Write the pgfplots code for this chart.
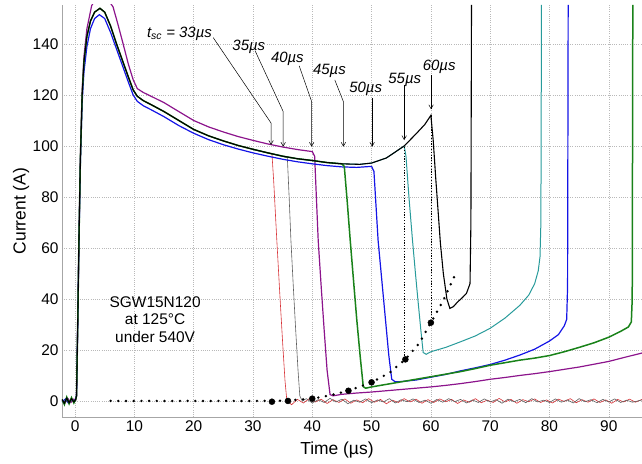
\documentclass[border=0pt]{standalone}
\usepackage{fontspec}
\setmainfont{Liberation Sans}
\usepackage{pgfplots}
\pgfplotsset{compat=1.18}
\usetikzlibrary{arrows.meta}
\definecolor{cRed}{RGB}{215,50,55}
\definecolor{cGray}{RGB}{95,95,95}
\definecolor{cPurple}{RGB}{140,20,140}
\definecolor{cGreen}{RGB}{25,130,25}
\definecolor{cBlue}{RGB}{20,20,230}
\definecolor{cTeal}{RGB}{40,155,155}
\begin{document}
\begin{tikzpicture}
\useasboundingbox (-62bp,-47bp) rectangle (580bp,417bp);
\begin{axis}[
  at={(0,0)}, anchor=south west,
  scale only axis, width=580bp, height=412bp,
  xmin=-2.2, xmax=95.6, ymin=-6.3, ymax=155.3,
  separate axis lines,
  axis x line*=bottom, axis y line*=left,
  x axis line style={-, draw=gray!70, line width=0.6bp},
  y axis line style={-, draw=gray!70, line width=0.6bp},
  xtick={0,10,...,90}, ytick={0,20,...,140},
  major tick length=0pt,
  grid=major,
  major grid style={draw=gray!55, line width=0.5bp, dash pattern=on 0.8bp off 1.4bp},
  tick label style={font=\fontsize{15.5}{18}\selectfont},
  /pgf/number format/assume math mode=true,
  label style={font=\fontsize{17.5}{20}\selectfont},
  xlabel={Time (µs)}, ylabel={Current (A)},
  xlabel style={at={(axis description cs:0.474,0)}, anchor=center, yshift=-33bp},
  ylabel style={at={(axis description cs:0,0.5)}, anchor=center, yshift=41bp},
  clip=true,
]
% red, t_sc = 33 us
\addplot[cRed, line width=0.6bp] coordinates {
(-2.2,0.6) (-1.8,-0.9) (-1.4,1.1) (-1.0,-0.7) (-0.6,0.9) (-0.2,-0.4) (0.1,0.5) (0.25,2) (0.45,30) (0.65,62) (0.9,95) (1.2,120) (1.5,133) (2,143) (2.6,149) (3.3,152.5) (4.2,154) (5,152.5) (6,147) (7,140) (8,133.5) (9,127) (9.8,122) (10.5,119.5) (11.5,117.8) (13,116) (15,113.5) (17.5,110) (20,106.5) (22.5,104) (25,102) (27.5,100.2) (30,98.7) (32.5,97.3)
(33.2,97) (33.5,86) (34,64) (34.5,43) (35,23) (35.4,8) (35.7,0.5)
(36.5,-1.5) (37.5,0.6) (38.5,-0.8) (39.5,0.9) (40.5,-0.4) (41.5,0.7) (42.5,-1) (43.5,0.5) (44.5,-0.6) (45.5,0.8) (46.5,-0.9) (47.5,0.4) (48.5,-0.7) (49.5,0.9) (50.5,-0.5) (51.5,0.6) (52.5,-1.1) (53.5,0.3) (54.5,-0.6) (55.5,0.9) (56.5,-0.4) (57.5,0.7) (58.5,-0.9) (59.5,0.5) (60.5,-0.6) (61.5,0.8) (62.5,-0.3) (63.5,0.6) (64.5,-1) (65.5,0.4) (66.5,-0.5) (67.5,0.9) (68.5,-0.7) (69.5,0.3) (70.5,-0.6) (71.5,1) (72.5,-0.4) (73.5,0.6) (74.5,-0.9) (75.5,0.5) (76.5,-0.3) (77.5,0.8) (78.5,-0.6) (79.5,0.4) (80.5,-0.8) (81.5,0.7) (82.5,-0.2) (83.5,0.9) (84.5,-0.7) (85.5,0.5) (86.5,-0.5) (87.5,0.8) (88.5,-0.6) (89.5,0.4) (90.5,-0.9) (91.5,0.6) (92.5,-0.4) (93.5,0.7) (94.5,-0.5) (95.6,0.6)};
% gray, 35 us
\addplot[cGray, line width=0.6bp] coordinates {
(30,98.7) (32.5,97.3) (35,96) (35.8,95.3) (36.1,80) (36.4,63) (36.8,45) (37.2,28) (37.6,12) (37.9,2) (38.3,0)
(39,0.9) (40,-0.8) (41,0.5) (42,-0.6) (43,1) (44,-0.4) (45,0.7) (46,-1.1) (47,0.3) (48,-0.5) (49,0.8) (50,-0.7) (51,0.4) (52,-0.4) (53,0.9) (54,-0.8) (55,0.5) (56,-0.3) (57,0.8) (58,-0.6) (59,0.3) (60,-0.9) (61,0.6) (62,-0.5) (63,0.9) (64,-0.3) (65,0.6) (66,-0.8) (67,0.4) (68,-0.6) (69,0.8) (70,-0.4) (71,0.5) (72,-0.9) (73,0.7) (74,-0.3) (75,0.6) (76,-0.7) (77,0.9) (78,-0.4) (79,0.3) (80,-0.6) (81,0.8) (82,-0.5) (83,0.4) (84,-0.8) (85,0.9) (86,-0.3) (87,0.5) (88,-0.7) (89,0.6) (90,-0.4) (91,0.8) (92,-0.6) (93,0.3) (94,-0.5) (95.6,0.4)};
% purple, 40 us
\addplot[cPurple, line width=1.2bp] coordinates {
(-2.2,0.3) (-1.7,-0.8) (-1.2,0.9) (-0.7,-0.6) (-0.2,0.7) (0.1,0.2) (0.25,2) (0.45,30) (0.65,62) (0.9,96) (1.2,122) (1.5,135) (2,146) (2.8,155) (3.5,158) (4.5,159) (5.5,157.5) (6.4,154.6) (7.2,148) (8,141) (9,132) (9.8,126) (10.5,122.5) (11.5,121) (13,119.3) (15,117) (17.5,113.5) (20,110) (22.5,107.5) (25,105.5) (27.5,103.7) (30,102.2) (32.5,100.8) (35,99.6) (37.5,98.6) (40,97.8)
(40.4,96) (41,63) (41.5,45) (42,28) (42.5,12) (43,2.5) (43.5,2) (45,2.6) (47.5,3.1) (50,3.5) (52.5,4) (55,4.5) (57.5,5) (60,5.5) (62.5,6.1) (65,6.8) (67.5,7.6) (70,8.5) (72.5,9.2) (75,10) (77.5,10.7) (80,11.5) (82.5,12.4) (85,13.3) (87.5,14.4) (90,15.5) (92.5,17) (95.6,18.8)};
% blue, 50 us
\addplot[cBlue, line width=1.2bp] coordinates {
(-2.2,-0.4) (-1.6,0.8) (-1.1,-0.9) (-0.6,0.6) (-0.1,-0.3) (0.25,2) (0.45,30) (0.65,61) (0.9,93) (1.2,117) (1.5,129) (2,139) (2.6,146) (3.3,150) (4.1,151.5) (5,150) (6,144.5) (7,138) (8,131.5) (9,125) (9.8,120) (10.5,117.5) (11.5,115.8) (13,114) (15,111.5) (17.5,108) (20,105) (22.5,102.5) (25,100.5) (27.5,98.8) (30,97.3) (32.5,96) (35,94.8) (37.5,93.8) (40,93) (42.5,92.3) (45,91.8) (47.5,91.6) (50,92)
(50.4,90) (51.1,63) (51.7,48) (52.3,33) (52.9,18) (53.4,8.5) (54,7.5) (55,7.6) (57.5,8.2) (60,9.3) (62.5,10.4) (65,11.8) (67.5,13) (70,14.3) (72.5,16) (75,18) (77.5,20.3) (80,23.5) (81.5,26) (82.5,29.5) (82.9,32) (83.05,45) (83.15,155.3)};
% teal, 55 us
\addplot[cTeal, line width=1bp] coordinates {
(30,98.7) (32.5,97.3) (35,96) (37.5,95) (40,94.3) (42.5,93.5) (45,93) (48,92.8) (50,93.3) (52.5,95.3) (55.5,100)
(55.8,96) (56.3,80) (56.9,63) (57.4,50) (57.8,40) (58.3,28) (58.7,19) (59.2,18.3) (60,19.3) (62.5,21) (65,23.2) (67.5,25.5) (70,28.5) (72.5,32.5) (75,37.5) (76.5,41.5) (77.5,46) (78.1,51) (78.4,56.5) (78.55,70) (78.65,155.3)};
% green, 45 us
\addplot[cGreen, line width=1.5bp] coordinates {
(-2.2,0.6) (-1.8,-1.4) (-1.4,1.5) (-1.0,-1.1) (-0.6,1.3) (-0.2,-0.8) (0.1,0.5) (0.25,2) (0.45,30) (0.65,62) (0.9,95) (1.2,120) (1.5,133) (2,143) (2.6,149) (3.3,152.5) (4.2,154) (5,152.5) (6,147) (7,140) (8,133.5) (9,127) (9.8,122) (10.5,119.5) (11.5,117.8) (13,116) (15,113.5) (17.5,110) (20,106.5) (22.5,104) (25,102) (27.5,100.2) (30,98.7) (32.5,97.3) (35,96) (37.5,95) (40,94.3) (42.5,93.5) (45,93)
(45.4,92) (45.9,78) (46.4,63) (47,46) (47.5,32) (48.1,17) (48.6,5.6) (49,5) (50,5.5) (52.5,6.5) (55,7.5) (57.5,8.5) (60,9.5) (62.5,10.5) (65,11.5) (67.5,12.7) (70,14) (72.5,15) (75,16) (77.5,16.8) (80,17.8) (82.5,19.3) (85,21) (87.5,22.8) (90,25) (92,27.3) (93.3,29) (93.8,31) (93.95,40) (94.05,155.3)};
% black, 60 us
\addplot[black, line width=1.1bp] coordinates {
(-2.2,0.6) (-1.8,-0.9) (-1.4,1.1) (-1.0,-0.7) (-0.6,0.9) (-0.2,-0.4) (0.1,0.5) (0.25,2) (0.45,30) (0.65,62) (0.9,95) (1.2,120) (1.5,133) (2,143) (2.6,149) (3.3,152.5) (4.2,154) (5,152.5) (6,147) (7,140) (8,133.5) (9,127) (9.8,122) (10.5,119.5) (11.5,117.8) (13,116) (15,113.5) (17.5,110) (20,106.5) (22.5,104) (25,102) (27.5,100.2) (30,98.7) (32.5,97.3) (35,96) (37.5,95) (40,94.3) (42.5,93.5) (45,93) (48,92.8) (50,93.3) (52.5,95.3) (55.5,100) (57.6,105) (59,108.5) (60,112)
(60.4,102) (60.8,88) (61.2,75) (61.6,62) (62.1,50) (62.7,40) (63.2,36.3) (63.8,37) (64.5,38.8) (65.3,40.5) (66,42.2) (66.6,46) (66.75,70) (66.85,155.3)};
% dotted verticals
\addplot[black, line width=1.2bp, dash pattern=on 1.2bp off 1.6bp] coordinates {(55.6,99.5) (55.6,16.3)};
\addplot[black, line width=1.2bp, dash pattern=on 1.2bp off 1.6bp] coordinates {(60.1,112) (60.1,30.7)};
% dotted fit line
\addplot[black, line width=2.7bp, line cap=round, dash pattern=on 0bp off 7.7bp] coordinates {
(6,0) (30,0) (33.2,0) (35.9,0.2) (40,0.9) (43,2.2) (46.1,4) (50,7.3) (53,11) (55.7,16.3) (58,22.5) (60,30.7) (62,39) (64.2,50)};
% big dots
\addplot[only marks, mark=*, mark size=3bp, black] coordinates {
(33.2,-0.3) (35.9,0) (40,0.9) (46.1,4) (50,7.3) (55.7,16.3) (60,30.7)};
% annotations
\begin{scope}[font=\fontsize{15}{18}\selectfont\itshape]
\node[anchor=base west, inner sep=0pt] at (axis cs:12.1,142.5) {t\textsubscript{sc} = 33µs};
\node[anchor=base, inner sep=0pt] at (axis cs:29.3,137.6) {35µs};
\node[anchor=base, inner sep=0pt] at (axis cs:35.8,132.8) {40µs};
\node[anchor=base, inner sep=0pt] at (axis cs:42.9,128) {45µs};
\node[anchor=base, inner sep=0pt] at (axis cs:49,121) {50µs};
\node[anchor=base, inner sep=0pt] at (axis cs:55.6,124.6) {55µs};
\node[anchor=base, inner sep=0pt] at (axis cs:61.4,129.8) {60µs};
\end{scope}
\begin{scope}[line width=0.5bp, -{Straight Barb[length=4bp,width=4.5bp]}]
\draw (axis cs:23.3,142.5) -- (axis cs:33.05,109) -- (axis cs:33.05,100.4);
\draw (axis cs:30.35,137.4) -- (axis cs:35.1,113.5) -- (axis cs:35.1,99.7);
\draw (axis cs:37.8,131.4) -- (axis cs:39.9,117.4) -- (axis cs:39.9,99.7);
\draw (axis cs:43.8,125.9) -- (axis cs:45.25,117.4) -- (axis cs:45.25,99.7);
\draw (axis cs:50.1,118.7) -- (axis cs:50.1,99.7);
\draw (axis cs:55.5,124) -- (axis cs:55.5,102.3);
\draw (axis cs:60.03,127.8) -- (axis cs:60.03,114.4);
\end{scope}
\node[align=center, font=\fontsize{15.5}{17.4}\selectfont] at (axis cs:13.5,32) {SGW15N120\\at 125°C\\under 540V};
\end{axis}
\end{tikzpicture}
\end{document}
